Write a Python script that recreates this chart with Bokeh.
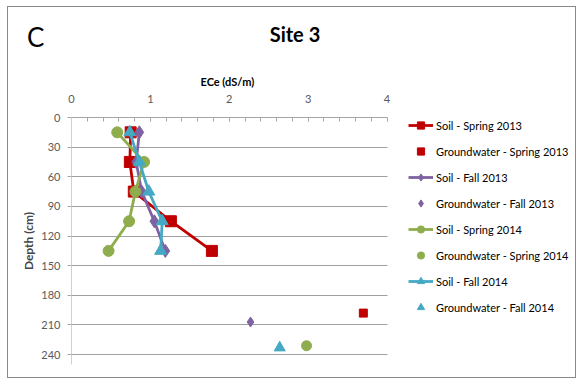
from bokeh.plotting import figure
from bokeh.models import Range1d, FixedTicker, Legend, LegendItem, Div, Grid
from bokeh.layouts import column
from bokeh.embed import file_html
from bokeh.resources import INLINE

# ---- data ----
depths = [15, 45, 75, 105, 135]
soil_spring_2013 = [0.75, 0.74, 0.79, 1.26, 1.78]
soil_fall_2013 = [0.86, 0.82, 0.89, 1.05, 1.19]
soil_spring_2014 = [0.58, 0.92, 0.81, 0.73, 0.47]
soil_fall_2014 = [0.74, 0.86, 0.98, 1.15, 1.13]

gw_spring_2013 = ([3.70], [198])
gw_fall_2013 = ([2.27], [207])
gw_spring_2014 = ([2.98], [231])
gw_fall_2014 = ([2.64], [233])

x_ticks = [0, 1, 2, 3, 4]
y_ticks = [0, 30, 60, 90, 120, 150, 180, 210, 240]
x_axis_max = 4
y_axis_max = 250

RED = "#C00000"
PURPLE = "#7F62A1"
GREEN = "#8EAD4C"
CYAN = "#45A9C4"
FONT = "Lato"

# frame spans the legend area too; the axis is bounded to 0..4
FRAME_W = 504
AXIS_W = 315.5
p = figure(width=567, height=320, output_backend="svg", toolbar_location=None,
           x_axis_location="above",
           x_range=Range1d(0, x_axis_max * FRAME_W / AXIS_W),
           y_range=Range1d(y_axis_max, 0),
           min_border_left=63, min_border_right=0, min_border_top=60,
           min_border_bottom=13)
p.outline_line_color = None
p.background_fill_color = "white"
p.border_fill_color = "white"

# x-axis title (placed over the bounded 0..4 axis span)
p.title.text = "ECe (dS/m)"
p.title.align = "left"
p.title.offset = 129
p.title.standoff = 8
p.title.text_font = FONT
p.title.text_font_style = "bold"
p.title.text_font_size = "11px"
p.title.text_color = "#000000"

# axes
xa = p.xaxis[0]
xa.bounds = (0, x_axis_max)
xa.ticker = FixedTicker(ticks=x_ticks, minor_ticks=[i * 0.2 for i in range(21)])
xa.axis_line_color = "#a6a6a6"
xa.major_tick_line_color = "#a6a6a6"
xa.minor_tick_line_color = "#a6a6a6"
xa.major_tick_in = 4
xa.major_tick_out = 0
xa.minor_tick_in = 4
xa.minor_tick_out = 0
xa.major_label_standoff = 15
xa.major_label_text_font = FONT
xa.major_label_text_font_size = "11px"
xa.major_label_text_color = "#595959"

ya = p.yaxis[0]
ya.ticker = FixedTicker(ticks=y_ticks)
ya.axis_label = "Depth (cm)"
ya.axis_label_text_font = FONT
ya.axis_label_text_font_style = "bold"
ya.axis_label_text_font_size = "12px"
ya.axis_label_standoff = 2
ya.axis_line_color = "#d0d0d0"
ya.major_tick_line_color = "#a6a6a6"
ya.major_tick_in = 0
ya.major_tick_out = 4
ya.minor_tick_line_color = None
ya.major_label_standoff = 7
ya.major_label_text_font = FONT
ya.major_label_text_font_size = "11px"
ya.major_label_text_color = "#595959"

p.xgrid.grid_line_color = None
if "cross_bounds" in Grid.properties():
    p.ygrid.grid_line_color = "#a0a0a0"
    p.ygrid.ticker = FixedTicker(ticks=y_ticks)
    p.ygrid.cross_bounds = (0, x_axis_max)
else:
    p.ygrid.grid_line_color = None
    p.segment(x0=[0] * len(y_ticks), y0=y_ticks, x1=[x_axis_max] * len(y_ticks),
              y1=y_ticks, line_color="#a0a0a0", line_width=1, level="underlay")

items = []
series = [
    ("Spring 2013", soil_spring_2013, gw_spring_2013, RED, "square", 11, 8),
    ("Fall 2013", soil_fall_2013, gw_fall_2013, PURPLE, "diamond", 13, 10),
    ("Spring 2014", soil_spring_2014, gw_spring_2014, GREEN, "circle", 11, 10),
    ("Fall 2014", soil_fall_2014, gw_fall_2014, CYAN, "triangle", 12, 11),
]
for name, xs, gw, col, mk, sz, gsz in series:
    ln = p.line(xs, depths, line_color=col, line_width=2.8)
    sc = p.scatter(xs, depths, marker=mk, size=sz, fill_color=col, line_color=col)
    g = p.scatter(gw[0], gw[1], marker=mk, size=gsz, fill_color=col, line_color=col)
    items.append(LegendItem(label="Soil - " + name, renderers=[ln, sc]))
    items.append(LegendItem(label="Groundwater - " + name, renderers=[g]))

legend = Legend(items=items, location=(337, 48), orientation="vertical",
                padding=0, margin=0, spacing=8, glyph_width=25, glyph_height=18,
                label_height=18, label_standoff=3,
                label_text_font=FONT, label_text_font_size="11px",
                label_text_color="#000000",
                background_fill_alpha=0, border_line_color=None)
p.add_layout(legend, "center")

header_html = (
    '<div style="position:relative;width:567px;height:50px;margin:0;padding:0;">'
    '<div style="position:absolute;left:19px;top:17px;font-family:Lato;'
    'font-size:26px;line-height:26px;color:#000;">C</div>'
    '<div style="position:absolute;left:237px;top:17px;width:100px;text-align:center;'
    'font-family:Lato;font-weight:bold;font-size:20px;line-height:20px;color:#000;">Site 3</div>'
    '</div>'
)
header = Div(text=header_html, width=567, height=50, margin=0,
             styles={"margin": "0", "padding": "0"})

layout = column(header, p, spacing=0,
                styles={"margin-left": "7px", "margin-top": "6px",
                        "border": "1px solid #8a8a8a", "background": "white"})

open("out.html", "w").write(file_html(layout, INLINE))
